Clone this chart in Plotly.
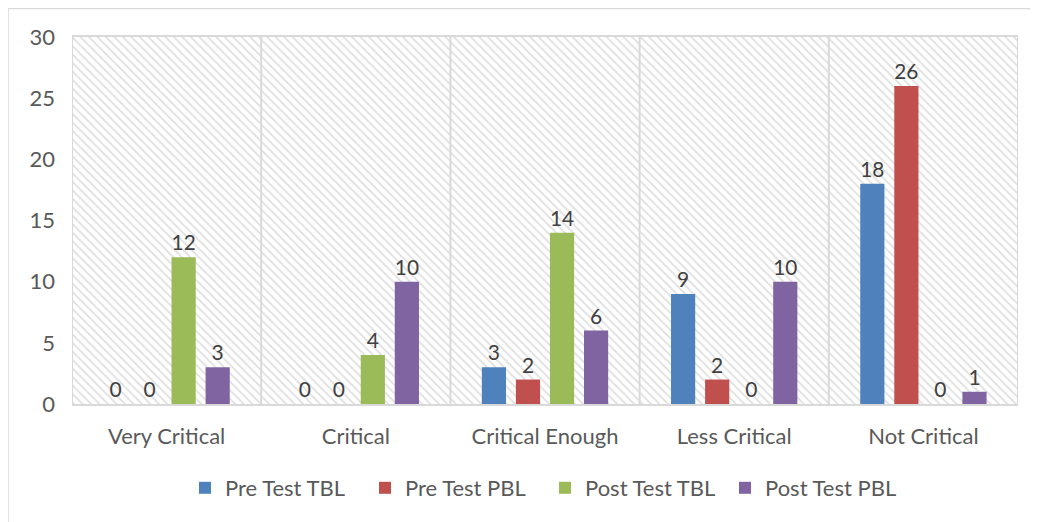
import plotly.graph_objects as go

categories = ["Very Critical", "Critical", "Critical Enough", "Less Critical", "Not Critical"]
pre_tbl = [0, 0, 3, 9, 18]
pre_pbl = [0, 0, 2, 2, 26]
post_tbl = [12, 4, 14, 0, 0]
post_pbl = [3, 10, 6, 10, 1]
series_names = ["Pre Test TBL", "Pre Test PBL", "Post Test TBL", "Post Test PBL"]
series_values = [pre_tbl, pre_pbl, post_tbl, post_pbl]
colors = ["#4F81BD", "#C0504D", "#9BBB59", "#8064A2"]
y_ticks = [0, 5, 10, 15, 20, 25, 30]

OFF = 8  # page body margin
W, H = 1038 - OFF, 522 - OFF
ml, mt = 72 - OFF, 37 - OFF
mr = W - (1018 - OFF)
mb = H - (404 - OFF)
pw, ph = W - ml - mr, H - mt - mb

fig = go.Figure()

# hatched background on the base (hidden) axes
fig.add_trace(go.Scatter(
    x=[0, 1, 1, 0, 0], y=[0, 0, 1, 1, 0], xaxis="x", yaxis="y",
    mode="lines", line=dict(width=0), fill="toself", fillcolor="rgba(255,255,255,0)",
    fillpattern=dict(shape="\\", fgcolor="#BFBFBF", bgcolor="white", size=6, solidity=0.3),
    hoverinfo="skip", showlegend=False,
))

for name, vals, col in zip(series_names, series_values, colors):
    fig.add_trace(go.Bar(
        x=categories, y=vals, name=name, xaxis="x2", yaxis="y2",
        marker=dict(color=col, line=dict(width=0)),
        text=[str(v) for v in vals], textposition="outside",
        textfont=dict(size=21, color="#404040", family="Lato"),
        cliponaxis=False,
    ))

yb = lambda py: (H - mb - (py - OFF)) / ph

# category boundary grid lines
grid_shapes = [dict(type="line", xref="x2", yref="paper", x0=i - 0.5, x1=i - 0.5, y0=0, y1=1,
                    line=dict(color="#D9D9D9", width=2), layer="above")
               for i in range(len(categories) + 1)]

fig.update_layout(
    width=W, height=H,
    margin=dict(l=ml, r=mr, t=mt, b=mb),
    paper_bgcolor="white", plot_bgcolor="white",
    barmode="group", bargap=0.28, bargroupgap=0.29,
    font=dict(family="Lato", size=22, color="#595959"),
    xaxis=dict(range=[0, 1], visible=False, fixedrange=True),
    yaxis=dict(range=[0, 1], visible=False, fixedrange=True),
    xaxis2=dict(overlaying="x", range=[-0.5, len(categories) - 0.5], showgrid=False,
                ticks="", showline=True, linecolor="#D9D9D9", linewidth=2, mirror=True,
                ticklabelstandoff=12, tickfont=dict(size=22, color="#595959")),
    yaxis2=dict(overlaying="y", range=[0, 30], tickvals=y_ticks, showgrid=True, gridcolor="#D9D9D9",
                gridwidth=2, zeroline=False, showline=False, ticks="", ticklabelstandoff=16,
                tickfont=dict(size=22, color="#595959")),
    legend=dict(orientation="h", x=0.5, xanchor="center", y=yb(488), yanchor="middle",
                font=dict(size=22, color="#595959"), itemwidth=30, entrywidth=135,
                traceorder="normal"),
    shapes=grid_shapes + [dict(type="rect", xref="paper", yref="paper",
                 x0=-ml / pw, x1=(W - ml + 20) / pw, y0=-(mb + 20) / ph, y1=(ph + mt - 0.5) / ph,
                 line=dict(color="#D9D9D9", width=1.5), fillcolor="rgba(0,0,0,0)", layer="below")],
    showlegend=True,
)

fig.write_html("out.html")
